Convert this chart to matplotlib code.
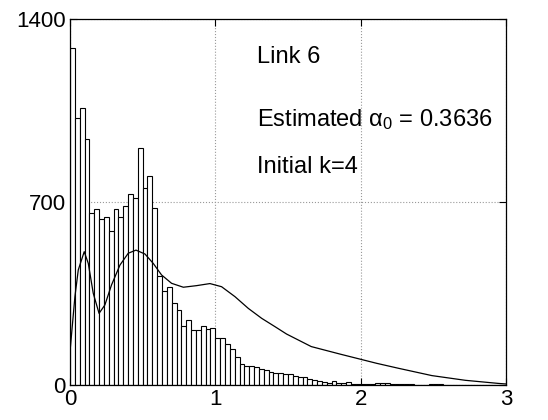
import numpy as np
import matplotlib
matplotlib.use('Agg')
import matplotlib.pyplot as plt

plt.rcParams.update({'font.size': 16,
                     'font.family': ['Liberation Sans', 'DejaVu Sans'],
                     'mathtext.fontset': 'custom',
                     'mathtext.rm': 'Liberation Sans',
                     'mathtext.it': 'Liberation Sans:italic'})

# histogram counts, bin width 1/30 over [0, 3]
bin_width = 1 / 30
counts = [1290, 1020, 1058, 941, 657, 672, 634, 644, 589, 673,
          644, 686, 729, 714, 907, 755, 798, 676, 418, 361,
          373, 315, 288, 226, 250, 209, 209, 227, 213, 217,
          179, 179, 156, 139, 108, 82, 74, 74, 68, 60,
          57, 50, 46, 45, 43, 41, 36, 32, 30, 24,
          19, 17, 10, 9, 15, 6, 6, 10, 4, 5,
          5, 5, 3, 7, 8, 6, 3, 2, 2, 2,
          2, 1, 1, 1, 2, 2, 2, 1, 1, 1,
          1, 0, 0, 0, 0, 0, 0, 0, 0, 0]
bin_left = np.arange(len(counts)) * bin_width

# fitted density curve (scaled)
curve_x = [0.0, 0.034, 0.057, 0.098, 0.126, 0.160, 0.200, 0.240, 0.286,
           0.344, 0.401, 0.454, 0.516, 0.573, 0.630, 0.699, 0.780, 0.870,
           0.963, 1.043, 1.135, 1.227, 1.319, 1.411, 1.490, 1.660, 1.860,
           2.110, 2.260, 2.490, 2.720, 2.950, 3.0]
curve_y = [127, 338, 440, 510, 465, 351, 274, 306, 383,
           459, 504, 516, 501, 465, 421, 389, 374, 380,
           388, 376, 338, 293, 255, 223, 195, 147, 118,
           83, 64, 36, 18, 6, 4]

fig = plt.figure(figsize=(5.48, 4.2), dpi=100)
ax = fig.add_axes([0.1277, 0.0833, 0.7957, 0.8715])

ax.bar(bin_left, counts, width=bin_width, align='edge',
       facecolor='white', edgecolor='black', linewidth=0.8, zorder=2)
ax.plot(curve_x, curve_y, color='black', linewidth=0.9, zorder=3)

ax.set_xlim(0, 3)
ax.set_ylim(0, 1400)
ax.set_xticks([0, 1, 2, 3])
ax.set_yticks([0, 700, 1400])
ax.tick_params(direction='in', length=5, top=True, right=True, pad=3)
ax.grid(True, linestyle=':', color='#999999', linewidth=0.8, zorder=0)
for s in ax.spines.values():
    s.set_linewidth(0.9)

ax.text(1.287, 1255, 'Link 6', va='center', ha='left', fontsize=17)
ax.text(1.287, 1014, r'Estimated $\mathrm{\alpha_0}$ = 0.3636',
        va='center', ha='left', fontsize=17)
ax.text(1.287, 834, 'Initial k=4', va='center', ha='left', fontsize=17)

fig.savefig('out.png', dpi=100)
